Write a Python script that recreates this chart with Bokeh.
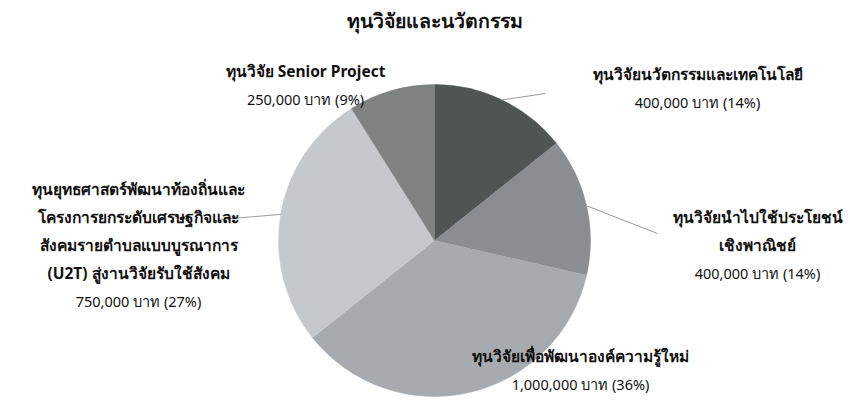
import math
from bokeh.plotting import figure
from bokeh.models import Range1d, ColumnDataSource
from bokeh.core.properties import value
from bokeh.embed import file_html
from bokeh.resources import INLINE

# ---- data ----
title_text = "ทุนวิจัยและนวัตกรรม"
categories = [
    "ทุนวิจัยนวัตกรรมและเทคโนโลยี",
    "ทุนวิจัยนำไปใช้ประโยชน์เชิงพาณิชย์",
    "ทุนวิจัยเพื่อพัฒนาองค์ความรู้ใหม่",
    "ทุนยุทธศาสตร์พัฒนาท้องถิ่นและโครงการยกระดับเศรษฐกิจและสังคมรายตำบลแบบบูรณาการ (U2T) สู่งานวิจัยรับใช้สังคม",
    "ทุนวิจัย Senior Project",
]
category_lines = [
    ["ทุนวิจัยนวัตกรรมและเทคโนโลยี"],
    ["ทุนวิจัยนำไปใช้ประโยชน์", "เชิงพาณิชย์"],
    ["ทุนวิจัยเพื่อพัฒนาองค์ความรู้ใหม่"],
    ["ทุนยุทธศาสตร์พัฒนาท้องถิ่นและ", "โครงการยกระดับเศรษฐกิจและ",
     "สังคมรายตำบลแบบบูรณาการ", "(U2T) สู่งานวิจัยรับใช้สังคม"],
    ["ทุนวิจัย Senior Project"],
]
amounts = [400000, 400000, 1000000, 750000, 250000]
unit = "บาท"

# ---- styles / layout ----
colors = ["#4f5553", "#8a8e90", "#a7aaae", "#c6c9cc", "#7e8381"]
W, H = 850, 403
# label anchor (centre x, first line y) in page pixel coords
label_pos = [(697, 73), (757, 216), (580, 355), (138, 188), (305, 70)]
line_step = 28
# leader line end points in page coords (None = no leader)
leader_end = [(545, 93), (657, 233), None, (220, 219), None]
cx_pg, cy_pg, R = 434, 240, 156


def dx(xp):
    return xp


def dy(yp):
    return H - yp


p = figure(width=W, height=H, output_backend="svg", toolbar_location=None,
           x_range=Range1d(0, W), y_range=Range1d(0, H), min_border=0,
           match_aspect=False)
p.axis.visible = False
p.grid.visible = False
p.outline_line_color = None
p.background_fill_color = "white"
p.border_fill_color = "white"

total = sum(amounts)
cum = 0.0
starts, ends, mids = [], [], []
for a in amounts:
    c0 = cum / total
    cum += a
    c1 = cum / total
    starts.append(math.pi / 2 - 2 * math.pi * c0)
    ends.append(math.pi / 2 - 2 * math.pi * c1)
    mids.append(math.pi / 2 - 2 * math.pi * (c0 + c1) / 2)

src = ColumnDataSource(dict(x=[dx(cx_pg)] * len(amounts), y=[dy(cy_pg)] * len(amounts),
                            start=starts, end=ends, color=colors, name=categories,
                            amount=amounts))
p.wedge(x="x", y="y", radius=R, start_angle="start", end_angle="end",
        direction="clock", fill_color="color", line_color="color", line_width=0.5,
        source=src)

# leader lines
for i, end in enumerate(leader_end):
    if end is None:
        continue
    sx = dx(cx_pg) + R * math.cos(mids[i])
    sy = dy(cy_pg) + R * math.sin(mids[i])
    p.line([sx, dx(end[0])], [sy, dy(end[1])], line_color="#9a9a9a", line_width=1)

# labels
font = value("Noto Sans")
for i, lines in enumerate(category_lines):
    x0, y0 = label_pos[i]
    pct = round(amounts[i] / total * 100)
    for j, ln in enumerate(lines):
        p.text(x=[dx(x0)], y=[dy(y0 + j * line_step)], text=[ln], text_font=font,
               text_font_size="15.5px", text_font_style="bold", text_color="#111111",
               text_align="center", text_baseline="middle")
    vy = y0 + len(lines) * line_step
    p.text(x=[dx(x0)], y=[dy(vy)], text=[f"{amounts[i]:,} {unit} ({pct}%)"],
           text_font=font, text_font_size="14.5px", text_color="#111111",
           text_align="center", text_baseline="middle")

p.text(x=[dx(434)], y=[dy(20)], text=[title_text], text_font=font,
       text_font_size="19.5px", text_font_style="bold", text_color="#111111",
       text_align="center", text_baseline="middle")

open("out.html", "w").write(file_html(p, INLINE))
